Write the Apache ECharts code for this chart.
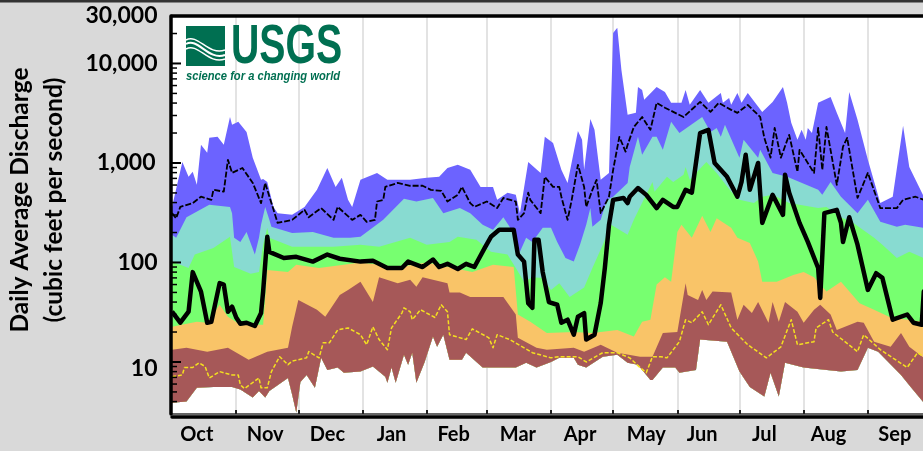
<!DOCTYPE html>
<html>
<head>
<meta charset="utf-8">
<title>Daily Average Discharge</title>
<script src="https://cdn.jsdelivr.net/npm/echarts@6/dist/echarts.min.js"></script>
<style>
  html, body { margin: 0; padding: 0; background: #d9d9d9; overflow: hidden; }
  #chart { width: 923px; height: 451px; }
</style>
</head>
<body>
<div id="chart"></div>
<script>
// water year days (0 = Oct 1), flow in cubic feet per second
const monthNames = ["Oct", "Nov", "Dec", "Jan", "Feb", "Mar", "Apr", "May", "Jun", "Jul", "Aug", "Sep"];
const monthLabelDays = [12, 45, 75, 106, 136, 167, 197, 229, 256, 286, 317, 349];
const monthStartDays = [31, 61, 92, 123, 152, 183, 213, 244, 274, 305, 336];
const yLabels = [10, 100, 1000, 10000, 30000];
const yMajorTicks = [10, 100, 1000, 10000];
const yMinorTicks = [4, 5, 6, 7, 8, 9, 20, 30, 40, 50, 60, 70, 80, 90, 200, 300, 400, 500, 600, 700, 800, 900, 2000, 3000, 4000, 5000, 6000, 7000, 8000, 9000, 20000];

const flowMax = [[0,362],[5,1020],[8,725],[10,815],[12,603],[14,1521],[17,1270],[18,1790],[22,1830],[25,1521],[28,2900],[29,2416],[32,2590],[36,2050],[39,1130],[43,677],[44,690],[46,645],[49,362],[51,313],[58,301],[64,362],[70,537],[75,890],[79,575],[82,710],[85,426],[87,362],[91,677],[99,795],[104,677],[115,677],[123,710],[129,725],[133,890],[138,958],[144,853],[149,575],[155,575],[157,426],[162,503],[166,478],[168,313],[172,1020],[178,795],[180,1830],[184,1590],[188,853],[191,630],[196,2100],[198,1708],[199,853],[202,2760],[204,2152],[207,677],[211,795],[213,20300],[215,22800],[217,8620],[220,3045],[224,3190],[225,5815],[227,5428],[228,4307],[234,5815],[238,5180],[241,4020],[246,4020],[248,5428],[250,3837],[255,5428],[259,4020],[265,5060],[266,4020],[269,4500],[270,3837],[273,5060],[275,4020],[278,5060],[285,3260],[290,4110],[295,5815],[297,4020],[299,2530],[302,1708],[304,2152],[306,1708],[307,2250],[309,2000],[312,4020],[318,4610],[321,3190],[325,2000],[327,5180],[331,2712],[336,1075],[342,395],[348,458],[353,2360],[356,910],[363,458],[366,450]];
const flowP90 = [[0,190],[2,177],[7,285],[18,380],[28,362],[29,313],[30,177],[33,161],[36,203],[40,120],[42,177],[43,239],[45,362],[47,268],[48,228],[58,198],[68,203],[78,177],[86,177],[91,181],[102,268],[112,436],[118,410],[126,445],[131,313],[139,352],[144,313],[150,239],[155,213],[160,285],[163,228],[167,151],[168,128],[171,177],[174,161],[179,223],[183,223],[186,161],[190,111],[194,102],[197,151],[200,239],[202,352],[203,228],[207,268],[210,426],[213,458],[220,630],[221,910],[225,1830],[227,1207],[232,1830],[234,1830],[237,1355],[241,2590],[245,2000],[256,2900],[260,2050],[263,2250],[265,1830],[267,2416],[274,1130],[276,1708],[283,1130],[284,1355],[290,795],[297,725],[312,537],[314,478],[318,645],[323,458],[331,313],[336,426],[342,256],[350,228],[354,239],[363,223],[366,223]];
const flowP75 = [[0,102],[8,88],[11,120],[20,140],[28,181],[30,90],[38,77],[42,80],[44,151],[46,223],[47,177],[58,144],[67,144],[78,144],[91,151],[100,144],[115,177],[123,151],[134,161],[138,181],[147,169],[154,128],[162,120],[166,88],[170,64],[174,71],[179,70],[183,53],[187,62],[192,45],[199,56],[203,88],[208,151],[212,239],[216,213],[220,190],[223,268],[226,362],[232,645],[233,515],[239,725],[242,645],[247,760],[248,910],[250,677],[258,1020],[263,795],[270,515],[274,426],[281,395],[285,458],[290,478],[298,395],[312,352],[316,362],[323,285],[329,250],[339,177],[343,151],[350,111],[356,128],[363,111],[366,111]];
const flowP25 = [[0,22.6],[12,25.3],[17,24.8],[23,37.6],[27,28.5],[33,23.7],[44,23.7],[46,84],[56,80],[60,95],[71,88],[91,100],[100,95],[107,88],[123,100],[136,88],[145,80],[155,95],[165,90],[167,30],[173,25.3],[181,19.6],[194,20],[203,19.6],[215,21],[223,18],[227,25.3],[231,26.6],[234,60],[238,71],[241,64],[244,203],[246,239],[251,177],[256,295],[260,203],[263,278],[270,223],[273,177],[279,157],[283,102],[285,64],[292,64],[300,75],[305,80],[310,71],[316,51],[323,64],[332,39],[339,33.5],[347,28],[363,25.3],[366,25]];
const flowP10 = [[0,13.3],[7,13.9],[17,12.7],[27,13.9],[37,10.5],[46,12.7],[56,13.9],[58,22.6],[61,42],[70,33.5],[74,28.5],[81,47],[85,53],[91,64],[97,40],[100,71],[109,62],[115,67],[118,57],[121,71],[133,62],[134,50],[139,50],[144,45],[160,45],[166,30],[167,17.5],[176,13.9],[181,13.3],[194,13.9],[199,12.7],[207,14.9],[215,12.4],[226,11.3],[232,11.3],[237,19.6],[244,20],[248,62],[249,47],[254,42],[256,53],[258,42],[261,51],[270,50],[273,26.6],[276,37.6],[280,31],[283,40],[288,24.8],[290,40],[293,25.3],[296,40],[302,32],[305,24.8],[310,33.5],[313,37.6],[318,30],[321,21],[331,25.3],[334,24.8],[339,16],[347,14.2],[352,19.6],[356,14.2],[363,11],[366,11]];
const flowMin = [[0,3.9],[7,4],[12,5.5],[20,5.6],[29,5.6],[33,5.3],[39,4.4],[42,5.1],[45,4.4],[47,5.1],[56,6.9],[58,4.7],[60,3.1],[62,6.3],[65,7.4],[69,5.5],[72,11],[75,8.3],[80,8.8],[83,7.8],[91,8],[97,9],[103,7.1],[104,6.2],[106,8.8],[108,6.2],[112,11.8],[114,9.4],[116,12.4],[118,6.2],[122,10],[126,18],[128,14.2],[131,18.8],[134,10.5],[140,10.5],[142,12.4],[150,8.8],[166,8.8],[171,9.8],[176,8.8],[183,10],[187,11],[194,11],[196,9.4],[200,8.8],[208,11.3],[215,11.8],[220,9.8],[225,9.4],[231,6.6],[232,6.6],[237,8.8],[243,8.8],[245,7.8],[253,8.3],[255,16.8],[268,16],[274,8],[279,5.6],[286,4.5],[289,7.8],[293,4.5],[296,9.8],[305,8.8],[323,8],[331,8.3],[336,13.9],[341,12.7],[352,7.4],[357,5.5],[363,3.9],[366,3.8]];

const flowCurrent = [[0,32],[4,24.8],[8,32],[10,80],[14,51],[17,24.8],[19,25.3],[23,62],[25,60],[27,32],[29,36],[31,28],[33,24.2],[36,24.8],[40,23],[43,31],[44,51],[46,181],[47,128],[54,111],[60,114],[68,102],[75,120],[81,109],[91,102],[97,104],[104,88],[111,88],[114,102],[121,90],[126,107],[129,90],[133,97],[138,86],[142,97],[146,90],[151,140],[154,181],[158,213],[165,213],[167,120],[170,102],[172,39],[174,35],[175,169],[177,169],[179,80],[182,40],[186,37.6],[188,24.8],[191,26.6],[194,18.8],[196,28.5],[199,31],[200,16.8],[204,18.8],[207,39],[209,88],[211,239],[213,426],[218,445],[220,395],[221,458],[225,560],[229,478],[234,352],[237,426],[242,362],[244,362],[248,537],[251,503],[255,2000],[259,2152],[262,1000],[268,725],[273,458],[275,645],[277,1207],[279,537],[283,1000],[285,250],[290,478],[295,301],[296,760],[298,503],[303,250],[307,161],[312,88],[313,44],[315,313],[321,338],[323,250],[324,161],[327,285],[331,151],[336,53],[340,78],[343,70],[348,26.6],[355,30],[358,24.8],[362,23.7],[363,51],[366,60]];
const flowUpperYear = [[0,313],[2,278],[4,362],[10,395],[14,458],[19,426],[20,537],[25,515],[27,1075],[29,795],[34,890],[39,630],[43,395],[45,630],[46,537],[51,250],[58,268],[64,338],[66,285],[72,352],[78,268],[80,362],[87,268],[91,301],[94,256],[98,268],[99,410],[102,426],[103,575],[109,630],[115,590],[121,590],[125,537],[130,525],[133,410],[138,478],[140,575],[144,395],[146,362],[152,410],[157,352],[160,445],[166,410],[167,268],[170,313],[172,503],[173,426],[178,313],[180,725],[184,575],[187,575],[188,458],[191,268],[193,426],[196,958],[199,575],[200,362],[203,537],[205,677],[207,313],[211,458],[213,853],[216,1830],[219,1300],[220,1521],[223,2300],[227,2900],[231,2152],[234,4020],[238,3590],[247,2900],[255,4110],[260,3260],[264,4020],[270,3418],[273,3190],[278,3837],[284,2900],[286,1790],[289,1130],[291,2250],[294,1130],[298,1917],[302,815],[303,1355],[310,795],[312,2250],[314,853],[316,2300],[321,603],[324,1460],[326,1790],[331,445],[336,795],[342,352],[350,352],[353,426],[359,458],[363,426],[366,426]];
const flowLowerYear = [[0,7.1],[5,7.4],[6,8.8],[10,8.8],[13,9.8],[16,9],[18,6.9],[23,8],[29,7.4],[32,7.4],[33,5.9],[35,5.4],[42,6.9],[43,5.5],[46,5.5],[48,8],[52,11.3],[56,9.4],[58,10.2],[65,11],[66,12.7],[71,11],[73,15.6],[76,15.6],[80,21],[85,22],[91,18.8],[94,14.9],[97,22.6],[100,16.8],[104,13.3],[106,22],[111,31],[112,35],[115,32],[116,26.6],[120,33.5],[127,28],[130,37.6],[133,32],[134,18.8],[142,16.8],[145,21.5],[153,17.5],[155,13.9],[157,18.8],[163,16.8],[174,12.4],[183,11],[187,11.3],[196,11.3],[200,10],[208,12.4],[215,12.4],[221,11],[226,8.8],[229,7.8],[232,11.3],[236,11.3],[239,11],[245,16],[248,26.6],[251,24.8],[256,32],[259,23.7],[265,37.6],[270,22],[278,14.9],[287,11],[294,14.2],[299,26.6],[302,14.9],[310,16],[311,22],[317,26.6],[319,20],[331,12.7],[334,18.8],[342,13.3],[348,11],[355,8.8],[360,12.4],[363,11.3],[366,11.3]];

const LABEL_FONT = "Lato, 'Open Sans', sans-serif";
const USGS_GREEN = "#006f51";

// one polygon per band: top edge of the band, back along the record minimum
function bandSeries (top, color, z) {
  return {
    type: "custom",
    coordinateSystem: "cartesian2d",
    data: top,
    encode: { x: 0, y: 1 },
    z: z,
    silent: true,
    clip: true,
    renderItem: function (params, api) {
      if (params.dataIndex !== 0) return null;
      const upper = top.map(function (p) { return api.coord(p); });
      const lower = flowMin.map(function (p) { return api.coord(p); }).reverse();
      return {
        type: "polygon",
        shape: { points: upper.concat(lower) },
        style: { fill: color },
      };
    },
  };
}

function lineSeries (data, color, width, dash, z) {
  return {
    type: "line",
    data: data,
    showSymbol: false,
    silent: true,
    z: z,
    lineStyle: { color: color, width: width, type: dash, join: "round" },
  };
}

// the log axis drops customValues for its ticks, so they are drawn as a series on the same scale
function tickSeries (values, length, width) {
  return {
    type: "custom",
    coordinateSystem: "cartesian2d",
    data: values.map(function (v) { return [1, v]; }),
    encode: { x: 0, y: 1 },
    z: 10,
    silent: true,
    renderItem: function (params, api) {
      const p = api.coord([0, values[params.dataIndex]]);
      return {
        type: "rect",
        shape: { x: p[0], y: p[1] - width / 2, width: length, height: width },
        style: { fill: "#000" },
      };
    },
  };
}

function frameAxis (position, offset, color, width) {
  return {
    type: "value",
    position: position,
    offset: offset,
    min: 0,
    max: 366,
    axisLine: { show: true, onZero: false, lineStyle: { color: color, width: width } },
    axisTick: { show: false },
    axisLabel: { show: false },
    splitLine: { show: false },
  };
}

function waveCurve (y1, y2, width) {
  return {
    type: "bezierCurve",
    shape: { x1: 186, y1: y1, cpx1: 198, cpy1: y1 - 7, cpx2: 208, cpy2: y2 + 6, x2: 225, y2: y2 },
    style: { stroke: "#fff", lineWidth: width, fill: null },
    z: 20,
  };
}

const chart = echarts.init(document.getElementById("chart"));
chart.setOption({
  animation: false,
  backgroundColor: "#d9d9d9",
  grid: { left: 172, top: 16, width: 758, height: 398, outerBoundsMode: "none", show: true, backgroundColor: "#fff", borderWidth: 0 },
  xAxis: [
    {
      type: "value",
      min: 0,
      max: 366,
      axisLine: { show: true, onZero: false, lineStyle: { color: "#666", width: 2 } },
      axisTick: { show: true, inside: true, length: 4, customValues: monthStartDays, lineStyle: { color: "#222", width: 2 } },
      axisLabel: {
        customValues: monthLabelDays,
        margin: 11,
        color: "#000",
        fontFamily: LABEL_FONT,
        fontWeight: "bold",
        fontSize: 20,
        formatter: function (v) { return monthNames[monthLabelDays.indexOf(v)]; },
      },
      splitLine: { show: true, lineStyle: { color: "#e3e3e3", width: 2 } },
    },
    frameAxis("bottom", 2.5, "#000", 3.5),
    frameAxis("top", 0, "#000", 3.5),
  ],
  yAxis: {
    type: "log",
    min: 3,
    max: 30000,
    offset: 1.5,
    z: 11,
    axisLine: { show: true, onZero: false, lineStyle: { color: "#000", width: 3.5 } },
    axisTick: { show: false },
    axisLabel: {
      customValues: yLabels,
      margin: 13,
      color: "#000",
      fontFamily: LABEL_FONT,
      fontWeight: "bold",
      fontSize: 23,
      formatter: function (v) {
        const text = Number(v).toLocaleString("en-US");
        if (v === 10) return "{ten|" + text + "}";
        if (v === 1000) return "{thousand|" + text + "}";
        return text;
      },
      rich: {
        ten: { padding: [14, 0, 0, 0], fontFamily: LABEL_FONT, fontWeight: "bold", fontSize: 23 },
        thousand: { padding: [0, 2, 0, 0], fontFamily: LABEL_FONT, fontWeight: "bold", fontSize: 23 },
      },
    },
    splitLine: { show: false },
  },
  series: [
    bandSeries(flowMax, "#6c63ff", 2),
    bandSeries(flowP90, "#88dbd1", 3),
    bandSeries(flowP75, "#77ff70", 4),
    bandSeries(flowP25, "#f9c468", 5),
    bandSeries(flowP10, "#a65858", 6),
    lineSeries(flowLowerYear, "#f4e020", 1.5, [4, 2], 7),
    lineSeries(flowUpperYear, "#000", 1.8, [6, 2], 8),
    lineSeries(flowCurrent, "#000", 4.5, "solid", 9),
    tickSeries(yMajorTicks, 9, 2),
    tickSeries(yMinorTicks, 5, 1.5),
  ],
  graphic: [
    { type: "rect", shape: { x: 0, y: 0, width: 923, height: 2.5 }, style: { fill: "#333" } },
    {
      type: "text", x: 20, y: 200, rotation: Math.PI / 2,
      style: { text: "Daily Average Discharge", fill: "#000", font: "bold 24.5px " + LABEL_FONT, align: "center", verticalAlign: "middle" },
    },
    {
      type: "text", x: 54, y: 200, rotation: Math.PI / 2,
      style: { text: "(cubic feet per second)", fill: "#000", font: "bold 24.5px " + LABEL_FONT, align: "center", verticalAlign: "middle" },
    },
    { type: "rect", shape: { x: 186, y: 26, width: 39, height: 40 }, style: { fill: USGS_GREEN }, z: 19 },
    waveCurve(40, 50, 1.5),
    waveCurve(44, 55, 2),
    waveCurve(49, 59, 1.5),
    {
      type: "text", x: 231, y: 48, scaleX: 0.7, z: 20,
      style: { text: "USGS", fill: USGS_GREEN, font: "bold 56px 'Liberation Sans Narrow', 'Liberation Sans', sans-serif", verticalAlign: "middle" },
    },
    {
      type: "text", x: 186, y: 76, scaleX: 0.86, z: 20,
      style: { text: "science for a changing world", fill: USGS_GREEN, font: "italic bold 13px 'Liberation Sans Narrow', 'Liberation Sans', sans-serif", verticalAlign: "middle" },
    },
  ],
});
</script>
</body>
</html>
